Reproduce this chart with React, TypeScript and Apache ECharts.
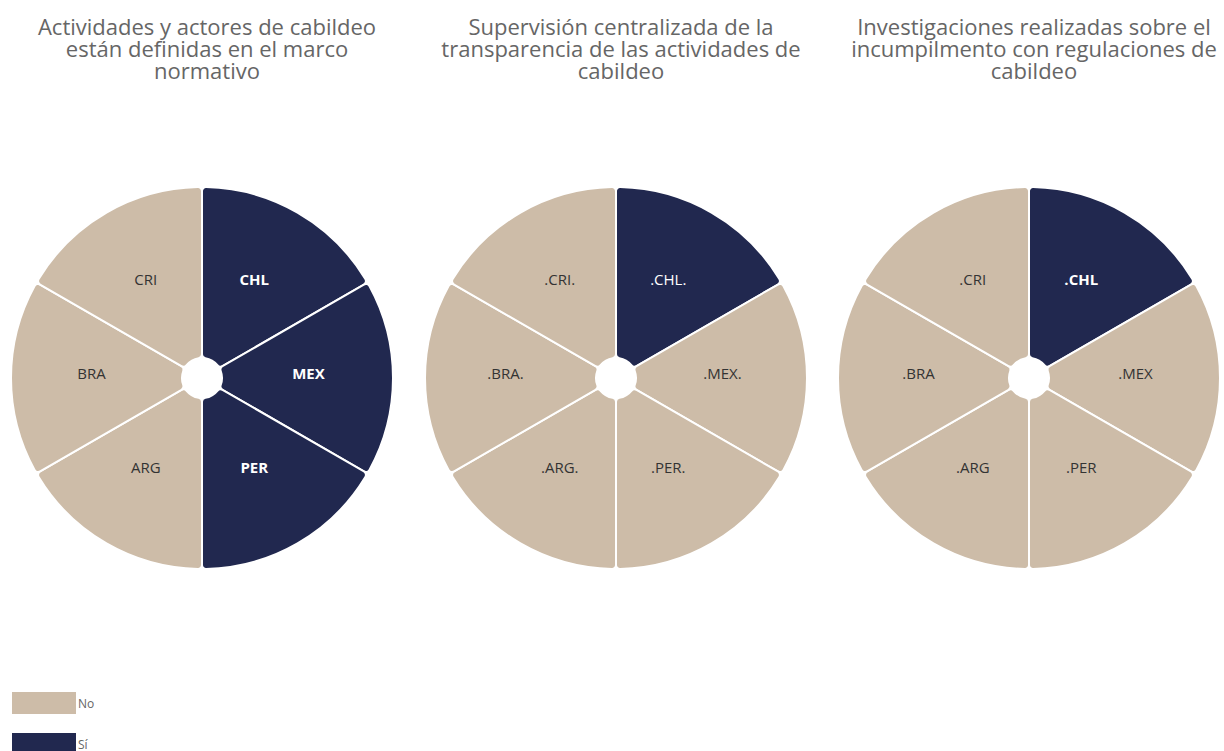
import React, { useEffect, useRef } from "react";
import * as echarts from "echarts";

const countries = ["CHL", "MEX", "PER", "ARG", "BRA", "CRI"];
const titles = [
  "Actividades y actores de cabildeo\nestán definidas en el marco\nnormativo",
  "Supervisión centralizada de la\ntransparencia de las actividades de\ncabildeo",
  "Investigaciones realizadas sobre el\nincumpilmento con regulaciones de\ncabildeo",
];
const answers1 = ["Sí", "Sí", "Sí", "No", "No", "No"];
const answers2 = ["Sí", "No", "No", "No", "No", "No"];
const answers3 = ["Sí", "No", "No", "No", "No", "No"];
const labels1 = ["CHL", "MEX", "PER", "ARG", "BRA", "CRI"];
const labels2 = [".CHL.", ".MEX.", ".PER.", ".ARG.", ".BRA.", ".CRI."];
const labels3 = [".CHL", ".MEX", ".PER", ".ARG", ".BRA", ".CRI"];
const sliceValues = [1, 1, 1, 1, 1, 1];
const legendNames = ["No", "Sí"];

const COLORS: Record<string, string> = { No: "#CDBCA8", "Sí": "#21284F" };
const FONT = "'Open Sans', 'Noto Sans', sans-serif";

export default function App() {
  const ref = useRef<HTMLDivElement>(null);
  useEffect(() => {
    if (!ref.current) return;
    const chart = echarts.init(ref.current, undefined, { renderer: "svg" });
    const centersX = [202, 616, 1029];
    const sets = [
      { answers: answers1, labels: labels1, bold: true },
      { answers: answers2, labels: labels2, bold: false },
      { answers: answers3, labels: labels3, bold: true },
    ];
    const series = sets.map((s, i) => ({
      type: "pie",
      center: [centersX[i], 378],
      radius: [20, 191],
      startAngle: 90,
      clockwise: true,
      silent: true,
      itemStyle: { borderColor: "#ffffff", borderWidth: 2, borderRadius: 4 },
      labelLine: { show: false },
      data: countries.map((c, j) => {
        const a = s.answers[j];
        const yes = a === "Sí";
        return {
          name: a,
          value: sliceValues[j],
          itemStyle: { color: COLORS[a] },
          label: {
            show: true,
            position: "inside",
            formatter: s.labels[j],
            color: yes ? "#ffffff" : "#333333",
            fontWeight: yes && s.bold ? "bold" : "normal",
            fontSize: 15,
            fontFamily: FONT,
            offset: [-2, -5],
          },
        };
      }),
    }));
    chart.setOption({
      animation: false,
      backgroundColor: "#ffffff",
      title: titles.map((t, i) => ({
        text: t,
        left: centersX[i],
        top: 10,
        textAlign: "center",
        textStyle: {
          fontFamily: FONT,
          fontSize: 22,
          fontWeight: "normal",
          color: "#666666",
          lineHeight: 22,
        },
      })),
      legend: legendNames.map((n, i) => ({
        data: [n],
        orient: "vertical",
        left: 7,
        top: 687 + i * 41,
        icon: "rect",
        itemWidth: 64,
        itemHeight: 22,
        selectedMode: false,
        itemStyle: { borderWidth: 0 },
        textStyle: { fontFamily: FONT, fontSize: 12, color: "#666666", padding: [0, 0, 0, -3] },
      })),
      series,
    });
    return () => chart.dispose();
  }, []);
  return (
    <div
      ref={ref}
      style={{ position: "fixed", left: 0, top: 0, width: 1224, height: 751 }}
    />
  );
}
